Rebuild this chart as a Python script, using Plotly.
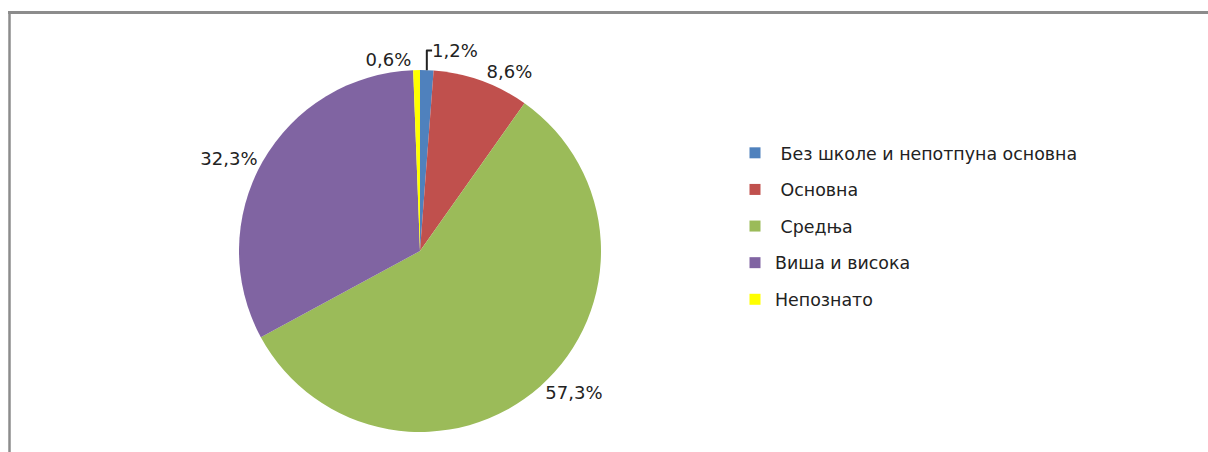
import plotly.graph_objects as go

categories = ["Без школе и непотпуна основна", "Основна", "Средња", "Виша и висока", "Непознато"]
shares = [1.2, 8.6, 57.3, 32.3, 0.6]
colors = ["#4F81BD", "#C0504D", "#9BBB59", "#8064A2", "#FFFF00"]
legend_indent = [True, True, True, False, False]

W, H = 1208, 452
FONT = "DejaVu Sans"

def px_x(x):
    return x / W

def px_y(y):
    return 1 - y / H

fig = go.Figure()

fig.add_trace(go.Pie(
    labels=categories,
    values=shares,
    sort=False,
    direction="clockwise",
    rotation=0,
    marker=dict(colors=colors, line=dict(width=0)),
    texttemplate="%{value:.1f}%",
    textposition="outside",
    textfont=dict(family=FONT, size=18, color="#222222"),
    showlegend=False,
    hoverinfo="label+percent",
    domain=dict(x=[px_x(239), px_x(601)], y=[px_y(432), px_y(70)]),
))

for name, color, ind in zip(categories, colors, legend_indent):
    fig.add_trace(go.Scatter(
        x=[None], y=[None], mode="markers",
        marker=dict(symbol="square", size=11, color=color),
        name=("\u00a0" if ind else "") + name,
        legendgroup=name,
        showlegend=True,
    ))

fig.update_layout(
    width=W, height=H,
    margin=dict(l=0, r=0, t=0, b=0),
    paper_bgcolor="white",
    plot_bgcolor="white",
    separators=", ",
    font=dict(family=FONT, size=17, color="#222222"),
    xaxis=dict(visible=False),
    yaxis=dict(visible=False),
    legend=dict(
        x=px_x(735), xanchor="left",
        y=px_y(135), yanchor="top",
        traceorder="grouped",
        tracegroupgap=11,
        itemwidth=30,
        font=dict(family=FONT, size=17.4, color="#222222"),
        bgcolor="rgba(0,0,0,0)",
    ),
    shapes=[
        dict(type="line", xref="paper", yref="paper",
             x0=px_x(8), x1=1, y0=px_y(12.5), y1=px_y(12.5),
             line=dict(color="#8c8c8c", width=3)),
        dict(type="line", xref="paper", yref="paper",
             x0=px_x(9.5), x1=px_x(9.5), y0=0, y1=px_y(11),
             line=dict(color="#8c8c8c", width=2.5)),
    ],
)

fig.write_html(
    "out.html",
    config={"displayModeBar": False},
    post_script="document.body.style.margin='0px';",
)
